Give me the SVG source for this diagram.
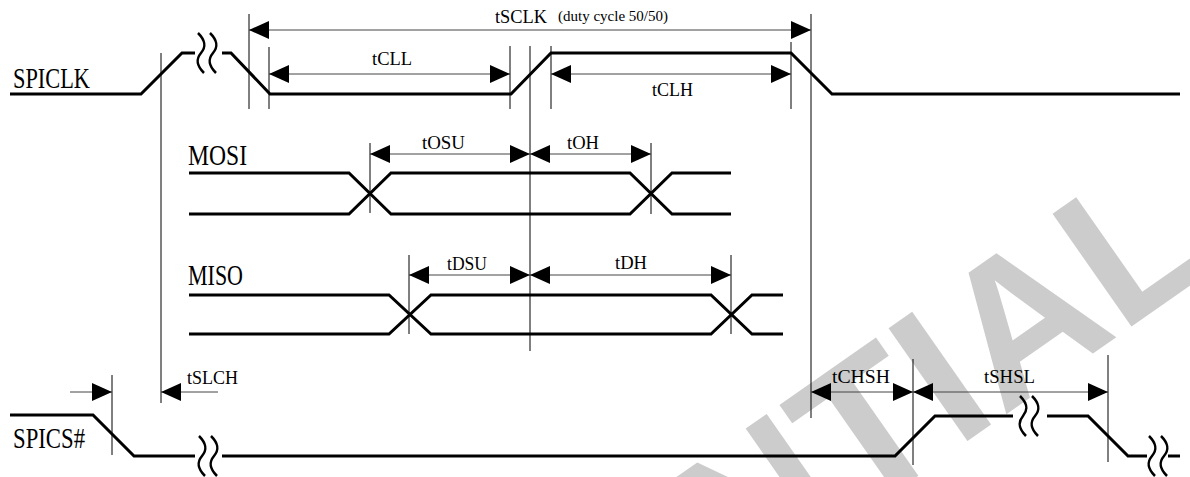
<svg xmlns="http://www.w3.org/2000/svg" width="1190" height="477" viewBox="0 0 1190 477">
<style>
.wm{font-family:"Liberation Sans",Arial,sans-serif;font-weight:bold;font-size:200px;fill:#cccccc}
.sig{fill:none;stroke:#000;stroke-width:3;stroke-linejoin:miter}
.sq{fill:none;stroke:#000;stroke-width:2.5}
.ref{stroke:#000;stroke-width:1;fill:none}
.dim{stroke:#444;stroke-width:1;fill:none;marker-end:url(#ah)}
.dim2{stroke:#444;stroke-width:1;fill:none;marker-start:url(#ah);marker-end:url(#ah)}
.lbl{font-family:"Liberation Serif","Times New Roman",serif;font-size:18px;fill:#000}
.sm{font-family:"Liberation Serif","Times New Roman",serif;font-size:15px;fill:#000}
.sn{font-family:"Liberation Serif","Times New Roman",serif;font-size:29px;fill:#000}
</style>
<defs>
<marker id="ah" markerUnits="userSpaceOnUse" markerWidth="20" markerHeight="18" refX="20" refY="9" orient="auto-start-reverse" viewBox="0 0 20 18">
<path d="M0,0 L20,9 L0,18 z" fill="#000"/>
</marker>
<g id="brk">
<path class="sq" d="M-9,-20 C-1,-12 -1,-6 -6,0 C-11,6 -11,12 -3,20"/>
<path class="sq" d="M3,-20 C11,-12 11,-6 6,0 C1,6 1,12 9,20"/>
</g>
</defs>
<rect width="1190" height="477" fill="#fff"/>
<text class="wm" transform="translate(1,1118) rotate(-35)">CONFIDENTIAL</text>

<g id="spiclk">
<text class="sn" x="13" y="88" textLength="77" lengthAdjust="spacingAndGlyphs">SPICLK</text>
<path class="sig" d="M10,94 L141,94 L182,53 L195,53"/>
<use href="#brk" x="207" y="53"/>
<path class="sig" d="M222,53 L231,53 L270,94 L511,94 L551,53 L791,53 L832,94 L1180,94"/>
</g>

<g id="mosi">
<text class="sn" x="188" y="165" font-size="25" textLength="59" lengthAdjust="spacingAndGlyphs">MOSI</text>
<path class="sig" d="M189,173 L349,173 L391,214 L630,214 L672,173 L731,173"/>
<path class="sig" d="M189,214 L349,214 L391,173 L630,173 L672,214 L731,214"/>
</g>

<g id="miso">
<text class="sn" x="188" y="285" font-size="25" textLength="55" lengthAdjust="spacingAndGlyphs">MISO</text>
<path class="sig" d="M189,295 L389,295 L431,334 L711,334 L752,295 L783,295"/>
<path class="sig" d="M189,334 L389,334 L431,295 L711,295 L752,334 L783,334"/>
</g>

<g id="spics">
<text class="sn" x="13" y="448" font-size="26" textLength="72" lengthAdjust="spacingAndGlyphs">SPICS#</text>
<path class="sig" d="M10,415 L93,415 L134,456 L195,456"/>
<use href="#brk" x="208" y="456"/>
<path class="sig" d="M222,456 L895,456 L935,416 L1013,416"/>
<use href="#brk" x="1029" y="416"/>
<path class="sig" d="M1047,416 L1088,416 L1128,456 L1147,456"/>
<use href="#brk" x="1158" y="456"/>
<path class="sig" d="M1168,456 L1180,456"/>
</g>

<g id="connectors">
<path class="ref" d="M161,53 V403 M249,14 V109 M269,47 V109 M510,46 V109 M530,46 V351 M551,46 V109 M791,42 V109 M811,14 V418 M370,143 V213 M651,143 V214 M409,255 V334 M731,255 V334 M112,375 V455 M913,359 V465 M1108,355 V462"/>
<path class="dim2" d="M249,30 H811"/>
<path class="dim2" d="M269,74 H510"/>
<path class="dim2" d="M551,74 H791"/>
<path class="dim2" d="M370,154 H530"/>
<path class="dim2" d="M530,154 H651"/>
<path class="dim2" d="M409,275 H530"/>
<path class="dim2" d="M530,275 H731"/>
<path class="dim" d="M70,392 H112"/>
<path class="dim" d="M218,392 H161"/>
<path class="dim2" d="M811,392 H913"/>
<path class="dim2" d="M913,392 H1108"/>
</g>

<g id="labels">
<text class="lbl" x="495" y="23" textLength="52" lengthAdjust="spacingAndGlyphs">tSCLK</text>
<text class="sm" x="558" y="21" textLength="110" lengthAdjust="spacingAndGlyphs">(duty cycle 50/50)</text>
<text class="lbl" x="372" y="65" textLength="40" lengthAdjust="spacingAndGlyphs">tCLL</text>
<text class="lbl" x="652" y="96" textLength="41" lengthAdjust="spacingAndGlyphs">tCLH</text>
<text class="lbl" x="422" y="149" textLength="43" lengthAdjust="spacingAndGlyphs">tOSU</text>
<text class="lbl" x="567" y="149" textLength="32" lengthAdjust="spacingAndGlyphs">tOH</text>
<text class="lbl" x="447" y="270" textLength="40" lengthAdjust="spacingAndGlyphs">tDSU</text>
<text class="lbl" x="615" y="269" textLength="32" lengthAdjust="spacingAndGlyphs">tDH</text>
<text class="lbl" x="187" y="384" textLength="51" lengthAdjust="spacingAndGlyphs">tSLCH</text>
<text class="lbl" x="832" y="383" textLength="58" lengthAdjust="spacingAndGlyphs">tCHSH</text>
<text class="lbl" x="984" y="383" textLength="51" lengthAdjust="spacingAndGlyphs">tSHSL</text>
</g>
</svg>
